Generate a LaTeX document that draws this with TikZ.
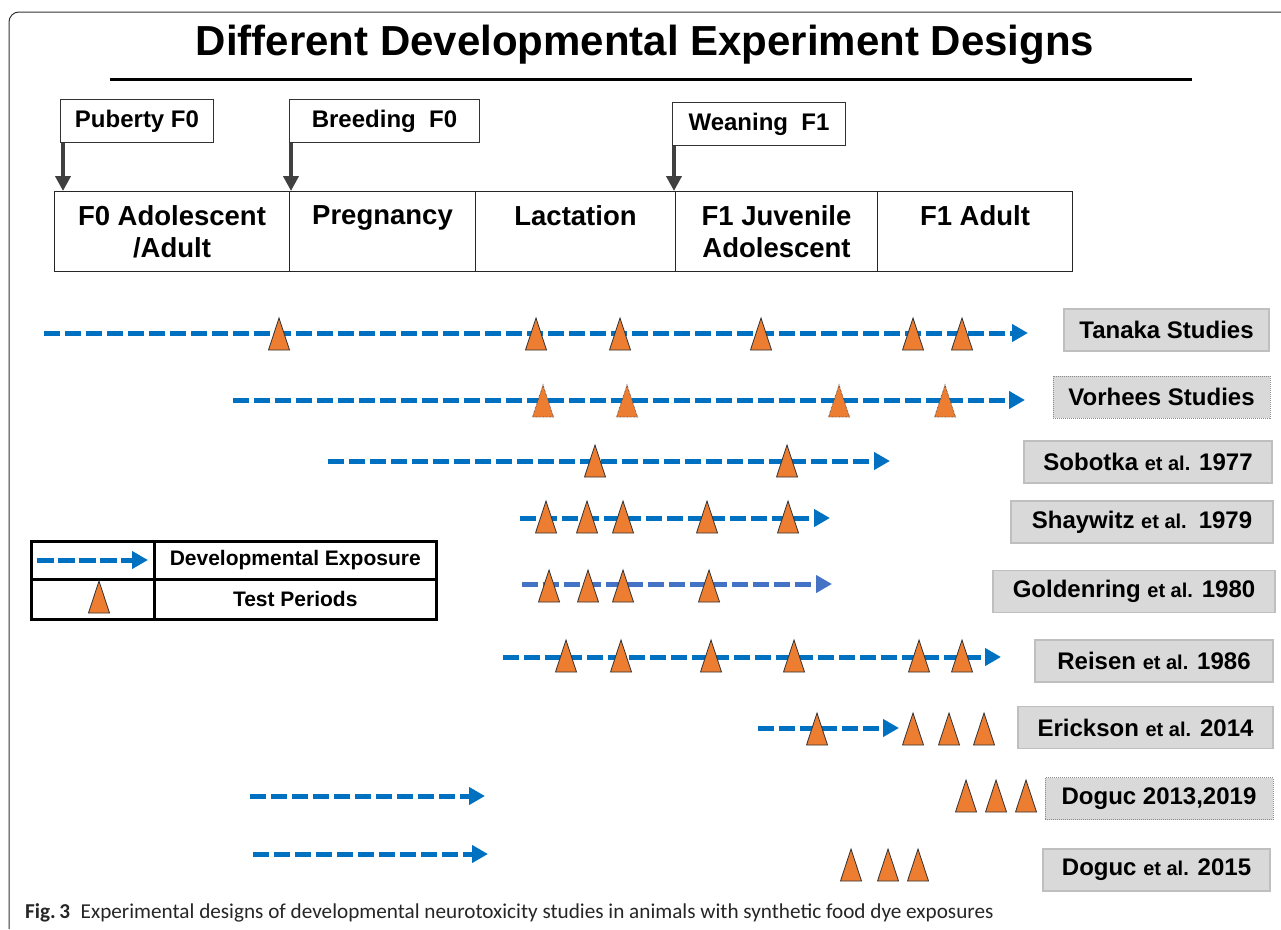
\documentclass[tikz,border=0pt]{standalone}
\usepackage{fontspec}
\setmainfont{Liberation Sans}
\newfontfamily\capfont{Carlito}
\usetikzlibrary{arrows.meta}
\definecolor{expblue}{HTML}{0070C0}
\definecolor{goldblue}{HTML}{4472C4}
\definecolor{testorange}{HTML}{ED7D31}
\definecolor{studygray}{HTML}{D9D9D9}
\definecolor{studyedge}{HTML}{BFBFBF}
\definecolor{markgray}{HTML}{404040}
\newcommand{\etalsmall}{{\fontsize{20}{22}\selectfont et al.}}

\begin{document}
\begin{tikzpicture}[x=1pt, y=-1pt,
  frame/.style={draw=black!80, line width=1pt, rounded corners=10pt},
  stage/.style={draw=markgray, line width=4.5pt, -{Triangle[length=15pt,width=15pt]}},
  event/.style={draw=black!80, line width=1pt, fill=white, anchor=north west,
    font=\fontsize{24}{26}\selectfont\bfseries, minimum height=43pt, inner sep=0pt},
  phase/.style={draw=black!85, line width=1pt, anchor=north west, align=center,
    font=\fontsize{27.5}{32}\selectfont\bfseries, minimum height=80pt, inner sep=0pt},
  expo/.style={draw=expblue, line width=5pt, dash pattern=on 16pt off 5pt,
    -{Triangle[length=16pt,width=17pt]}},
  study/.style={draw=studyedge, line width=1.5pt, fill=studygray,
    font=\fontsize{24}{26}\selectfont\bfseries, minimum height=42pt, inner sep=0pt},
  cell/.style={draw=black, line width=2.5pt, anchor=north west, minimum height=38pt,
    font=\fontsize{21}{23}\selectfont\bfseries, inner sep=0pt},
  testmark/.pic={\draw[fill=testorange, draw=black!80, line width=0.8pt, pic actions]
    (-10.5,0) -- (0,-32) -- (10.5,0) -- cycle;}]
  \useasboundingbox[fill=white] (0,0) rectangle (1281,929);
  \draw[frame] (9,929) -- (9,12) -- (1281,12);

  \node[font=\fontsize{42}{46}\selectfont\bfseries, anchor=base] (title) at (645,55)
    {Different Developmental Experiment Designs};
  \draw[line width=3pt] (110,79) -- (1192,79);

  \node[event, minimum width=153pt] (puberty) at (60,99) {Puberty F0};
  \node[event, minimum width=190pt] (breeding) at (289,99) {Breeding~~F0};
  \node[event, minimum width=173pt] (weaning) at (672,102) {Weaning~~F1};

  \node[phase, minimum width=235pt] (adult0) at (54,191) {F0 Adolescent\\/Adult};
  \node[phase, minimum width=186pt] (pregnancy) at (289,191) {Pregnancy\\\mbox{}};
  \node[phase, minimum width=200pt] (lactation) at (475,191) {Lactation\\\mbox{}};
  \node[phase, minimum width=202pt] (juvenile) at (675,191) {F1 Juvenile\\Adolescent};
  \node[phase, minimum width=195pt] (adult1) at (877,191) {F1 Adult\\\mbox{}};

  \draw[stage] ([xshift=3pt]puberty.south west) -- ([xshift=3pt]puberty.south west |- adult0.north);
  \draw[stage] ([xshift=2pt]breeding.south west) -- ([xshift=2pt]breeding.south west |- pregnancy.north);
  \draw[stage] ([xshift=2pt]weaning.south west) -- ([xshift=2pt]weaning.south west |- juvenile.north);

  \foreach \nm/\y/\xa/\xb in {tanaka/333/44/1028, vorhees/400/233/1025, sobotka/461/328/890,
      shaywitz/518/520/830, reisen/657/503/1001, erickson/728/758/899,
      doguca/796/250/485, dogucb/854/253/488} {
    \coordinate (\nm A) at (\xa,\y);
    \coordinate (\nm B) at (\xb,\y);
    \draw[expo] (\nm A) -- (\nm B);
  }
  \coordinate (goldenringA) at (522,584);
  \coordinate (goldenringB) at (832,584);
  \draw[expo, draw=goldblue] (goldenringA) -- (goldenringB);

  \foreach \x in {279,536,620,761,913,962} \pic at (\x,350) {testmark};
  \foreach \x in {543,627,839,945} \pic[densely dotted] at (\x,417) {testmark};
  \foreach \x in {595,787} \pic at (\x,477) {testmark};
  \foreach \x in {546,587,623,707,788} \pic at (\x,533) {testmark};
  \foreach \x in {549,588,623,709} \pic at (\x,602) {testmark};
  \foreach \x in {566,621,711,794,919,962} \pic at (\x,672) {testmark};
  \foreach \x in {817,913,949,984} \pic at (\x,745) {testmark};
  \foreach \x in {966,996,1026} \pic at (\x,812) {testmark};
  \foreach \x in {851,888,918} \pic at (\x,881) {testmark};

  \node[study, minimum width=205pt] (tanaka) at (1166.5,330) {Tanaka Studies};
  \node[study, minimum width=217pt, draw=black!45, line width=1pt, densely dotted] (vorhees) at (1161.5,397) {Vorhees Studies};
  \node[study, minimum width=248pt] (sobotka) at (1148,462) {Sobotka \etalsmall{} 1977};
  \node[study, minimum width=262pt] (shaywitz) at (1142,522) {Shaywitz \etalsmall\enspace 1979};
  \node[study, minimum width=282pt] (goldenring) at (1134,591.5) {Goldenring \etalsmall{} 1980};
  \node[study, minimum width=238pt] (reisen) at (1154,661) {Reisen \etalsmall{} 1986};
  \node[study, minimum width=255pt] (erickson) at (1145.5,727.5) {Erickson \etalsmall{} 2014};
  \node[study, minimum width=228pt, draw=black!45, line width=1pt, densely dotted] (doguca) at (1159,798.5) {Doguc 2013,2019};
  \node[study, minimum width=227pt] (dogucb) at (1156.5,870) {Doguc \etalsmall{} 2015};

  \node[cell, minimum width=123pt] (legexpo) at (30,540) {};
  \node[cell, minimum width=282pt] (legexpotext) at (153,540) {Developmental Exposure};
  \node[cell, minimum width=123pt, minimum height=40pt] (legtest) at (30,578) {};
  \node[cell, minimum width=282pt, minimum height=40pt] (legtesttext) at (153,578) {Test Periods};
  \coordinate (legA) at (37,560);
  \coordinate (legB) at (148,560);
  \draw[expo, dash pattern=on 17pt off 4pt] (legA) -- (legB);
  \pic at (99,613) {testmark};

  \node[anchor=base west, font=\capfont\fontsize{21.2}{23}\selectfont, text=black!85, inner sep=0pt] (caption) at (25,918)
    {\textbf{Fig.\,3}\enspace Experimental designs of developmental neurotoxicity studies in animals with synthetic food dye exposures};
\end{tikzpicture}
\end{document}
